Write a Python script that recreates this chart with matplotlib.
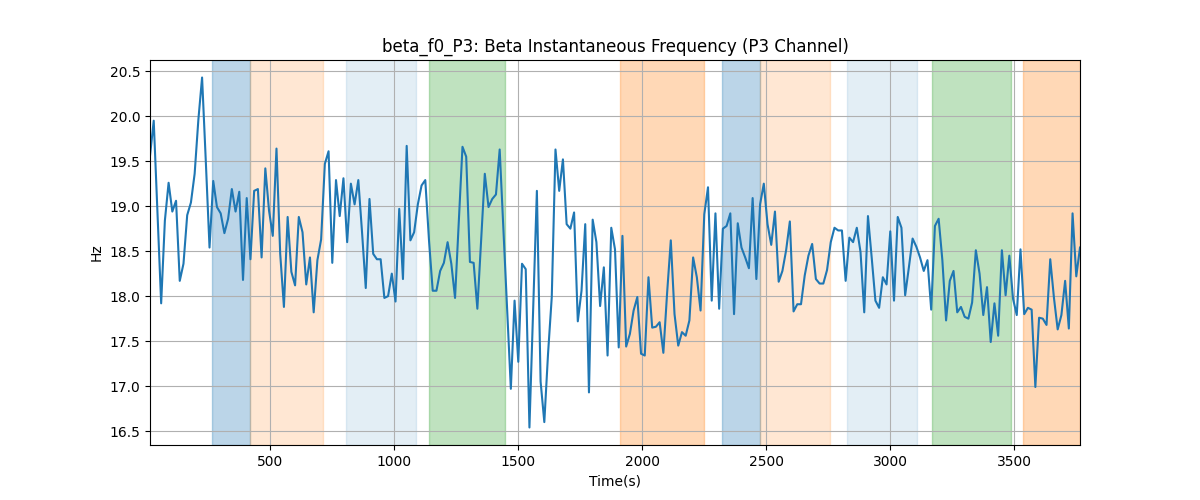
import numpy as np
import matplotlib.pyplot as plt

# отсчёты по времени: старт и шаг, с
t_start = 16
t_step = 15

# мгновенная частота beta, Гц
freq = [
    19.56, 19.95, 18.93, 17.92, 18.84, 19.26, 18.94, 19.06, 18.17, 18.36, 18.90, 19.04, 19.36, 19.96, 20.43, 19.50,
    18.54, 19.28, 18.99, 18.92, 18.70, 18.86, 19.19, 18.94, 19.16, 18.18, 19.09, 18.41, 19.17, 19.19, 18.43, 19.42,
    18.95, 18.67, 19.64, 18.47, 17.88, 18.88, 18.27, 18.12, 18.88, 18.71, 18.13, 18.43, 17.82, 18.40, 18.63, 19.47,
    19.61, 18.37, 19.29, 18.89, 19.31, 18.60, 19.25, 19.02, 19.29, 18.71, 18.09, 19.08, 18.47, 18.41, 18.41,
    17.98, 18.00, 18.25, 17.94, 18.97, 18.19, 19.67, 18.62, 18.71, 19.02, 19.23, 19.29, 18.62, 18.06, 18.06, 18.28,
    18.37, 18.60, 18.36, 17.98, 18.82, 19.66, 19.55, 18.38, 18.37, 17.86, 18.62, 19.36, 18.99, 19.08, 19.13,
    19.63, 18.75, 17.88, 16.97, 17.95, 17.27, 18.36, 18.30, 16.54, 17.86, 19.17, 17.05, 16.60, 17.36, 17.99, 19.63,
    19.17, 19.52, 18.80, 18.75, 18.93, 17.72, 18.06, 18.80, 16.93, 18.85, 18.60, 17.89, 18.32, 17.34, 18.76,
    18.52, 17.43, 18.67, 17.44, 17.58, 17.84, 17.99, 17.36, 17.34, 18.21, 17.65, 17.66, 17.71, 17.37, 18.03, 18.62,
    17.80, 17.45, 17.60, 17.56, 17.73, 18.43, 18.21, 17.84, 18.91, 19.21, 17.95, 18.92, 17.86, 18.75, 18.78, 18.92,
    17.80, 18.81, 18.54, 18.43, 18.31, 19.09, 18.19, 19.02, 19.25, 18.80, 18.57, 18.94, 18.16, 18.28, 18.51, 18.83,
    17.83, 17.91, 17.91, 18.23, 18.45, 18.58, 18.19, 18.14, 18.14, 18.29, 18.60, 18.76, 18.73, 18.73, 18.17,
    18.65, 18.60, 18.76, 18.49, 17.82, 18.89, 18.43, 17.95, 17.87, 18.21, 18.13, 18.72, 17.95, 18.88, 18.76, 18.01,
    18.32, 18.64, 18.55, 18.43, 18.28, 18.40, 17.85, 18.78, 18.86, 18.40, 17.73, 18.17, 18.28, 17.82, 17.88,
    17.77, 17.75, 17.93, 18.51, 18.25, 17.79, 18.10, 17.49, 17.92, 17.56, 18.51, 18.01, 18.45, 17.97, 17.79, 18.52,
    17.80, 17.87, 17.85, 16.99, 17.76, 17.75, 17.68, 18.41, 17.98, 17.63, 17.79, 18.17, 17.64, 18.92, 18.22, 18.54,
]

# интервалы событий: начало, конец, цвет, прозрачность
span_start = [266, 420, 806, 1141, 1911, 2322, 2477, 2826, 3169, 3536]
span_end = [420, 714, 1087, 1446, 2249, 2477, 2756, 3107, 3486, 3766]
span_color = ['C0', 'C1', 'C0', 'C2', 'C1', 'C0', 'C1', 'C0', 'C2', 'C1']
span_alpha = [0.3, 0.18, 0.12, 0.3, 0.3, 0.3, 0.18, 0.12, 0.3, 0.3]

t = t_start + t_step * np.arange(len(freq))

fig, ax = plt.subplots(figsize=(12, 5), dpi=100)
for s, e, c, a in zip(span_start, span_end, span_color, span_alpha):
    ax.axvspan(s, e, color=c, alpha=a)
ax.plot(t, freq, color='C0')
ax.set_xlim(t[0], t[-1])
ax.set_title('beta_f0_P3: Beta Instantaneous Frequency (P3 Channel)')
ax.set_xlabel('Time(s)')
ax.set_ylabel('Hz')
ax.grid(True)
fig.savefig('out.png')
